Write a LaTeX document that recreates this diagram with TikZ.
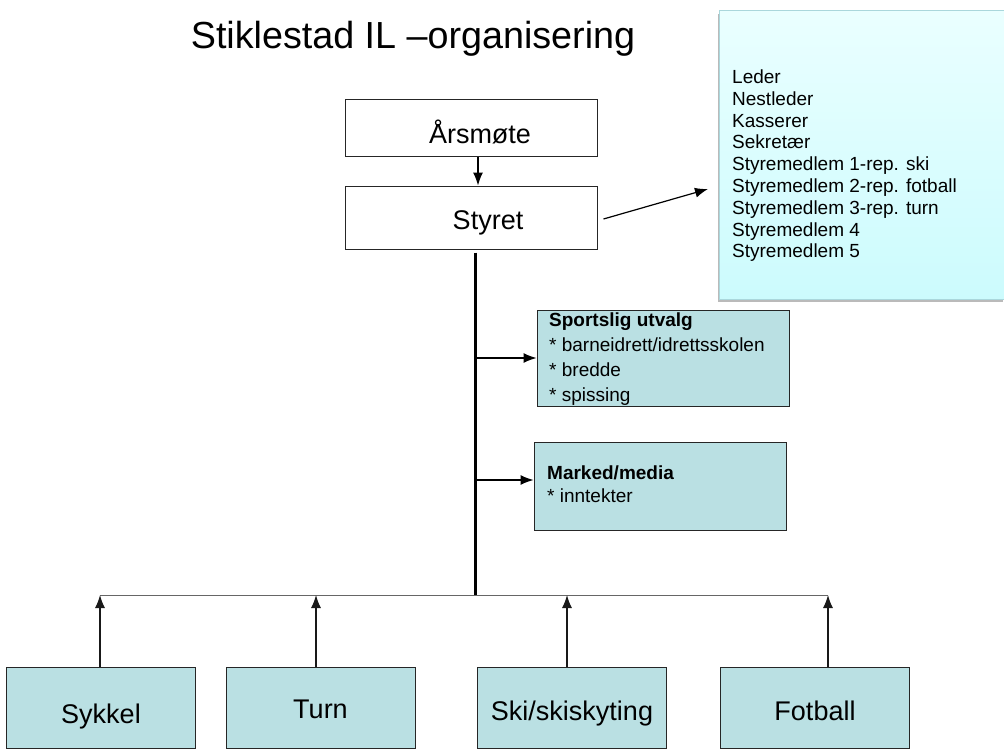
\documentclass[tikz,border=0pt]{standalone}
\usepackage{fontspec}
\setmainfont{Liberation Sans}
\usetikzlibrary{arrows.meta,shadows}
\definecolor{boxblue}{RGB}{186,224,227}
\definecolor{cyantop}{RGB}{234,255,255}
\definecolor{cyanbot}{RGB}{204,251,253}
\definecolor{cyanedge}{RGB}{170,215,220}
\begin{document}
\begin{tikzpicture}[x=1pt,y=-1pt,
  whitebox/.style={draw=black!85,line width=1pt,fill=white,minimum width=252pt,inner sep=0pt,text depth=0pt,font=\fontsize{27}{30}\selectfont},
  clubbox/.style={draw=black!85,line width=1pt,fill=boxblue,minimum width=189pt,minimum height=81pt,inner sep=0pt,text depth=0pt,font=\fontsize{27}{30}\selectfont},
  subbox/.style={draw=black!85,line width=1pt,fill=boxblue,inner sep=0pt},
  listtext/.style={anchor=north west,inner sep=0pt,align=left},
  arr/.style={line width=1.2pt,-{Latex[length=13pt,width=10pt]}},
  upline/.style={line width=1.2pt,black!90,-{Latex[length=13pt,width=10pt]}}
]
\useasboundingbox (0,0) rectangle (1004,749);

% title
\node[anchor=base,inner sep=0pt,font=\fontsize{37.7}{40}\selectfont] (title) at (413,49) {Stiklestad IL –organisering};

% top boxes
\node[whitebox,minimum height=57pt,text height=29pt] (arsmote) at (471,128.5) {\hspace*{18pt}Årsmøte};
\node[whitebox,minimum height=63pt,text height=23pt] (styret) at (471,217.5) {\hspace*{34pt}Styret};

% board members box
\node[draw=cyanedge,line width=1pt,top color=cyantop,bottom color=cyanbot,
      minimum width=285pt,minimum height=288pt,inner sep=0pt,
      drop shadow={shadow xshift=-1pt,shadow yshift=-3pt,opacity=0.45,fill=black!60}]
      (board) at (861.5,155) {};
\node[listtext,font=\fontsize{19}{21.8}\selectfont] (members) at (732,69.5)
 {Leder\\Nestleder\\Kasserer\\Sekretær\\Styremedlem 1-rep. ski\\Styremedlem 2-rep. fotball\\Styremedlem 3-rep. turn\\Styremedlem 4\\Styremedlem 5};

% sub committees
\node[subbox,minimum width=252pt,minimum height=96pt] (sport) at (663,358) {};
\node[listtext,font=\fontsize{19}{24.8}\selectfont] (sporttxt) at (549,313)
 {\textbf{Sportslig utvalg}\\* barneidrett/idrettsskolen\\* bredde\\* spissing};
\node[subbox,minimum width=252pt,minimum height=88pt] (marked) at (660,486) {};
\node[listtext,font=\fontsize{19}{22.7}\selectfont] (markedtxt) at (547,466)
 {\textbf{Marked/media}\\* inntekter};

% club boxes
\node[clubbox,text height=31pt] (sykkel) at (101,707.5) {Sykkel};
\node[clubbox,text height=21pt] (turn) at (320.5,707.5) {Turn};
\node[clubbox,text height=25pt] (ski) at (572,707.5) {Ski/skiskyting};
\node[clubbox,text height=25pt] (fotball) at (815,707.5) {Fotball};

% coordinates
\coordinate (spine) at (475,595);
\coordinate (barL) at (100,595);
\coordinate (barR) at (828,595);
\coordinate (boardin) at (708,189);
\coordinate (sportfrom) at (477,358);
\coordinate (markedfrom) at (477,480);

% connectors
\draw[arr] ([xshift=7pt]arsmote.south) -- ([xshift=7pt]styret.north);
\draw[arr] ([xshift=6pt,yshift=-1.5pt]styret.east) -- (boardin);
\draw[line width=3pt] ([xshift=4pt,yshift=-3pt]styret.south) -- (spine);
\draw[line width=1pt,black!60] (barL) -- (barR);
\draw[arr] (sportfrom) -- (sport.west |- sportfrom);
\draw[arr] (markedfrom) -- (marked.west |- markedfrom);

\draw[upline] ([xshift=-1pt]sykkel.north) -- ([xshift=-1pt]sykkel.north |- barL);
\draw[upline] ([xshift=-4.5pt]turn.north) -- ([xshift=-4.5pt]turn.north |- barL);
\draw[upline] ([xshift=-5pt]ski.north) -- ([xshift=-5pt]ski.north |- barL);
\draw[upline] ([xshift=13pt]fotball.north) -- ([xshift=13pt]fotball.north |- barL);
\end{tikzpicture}
\end{document}
